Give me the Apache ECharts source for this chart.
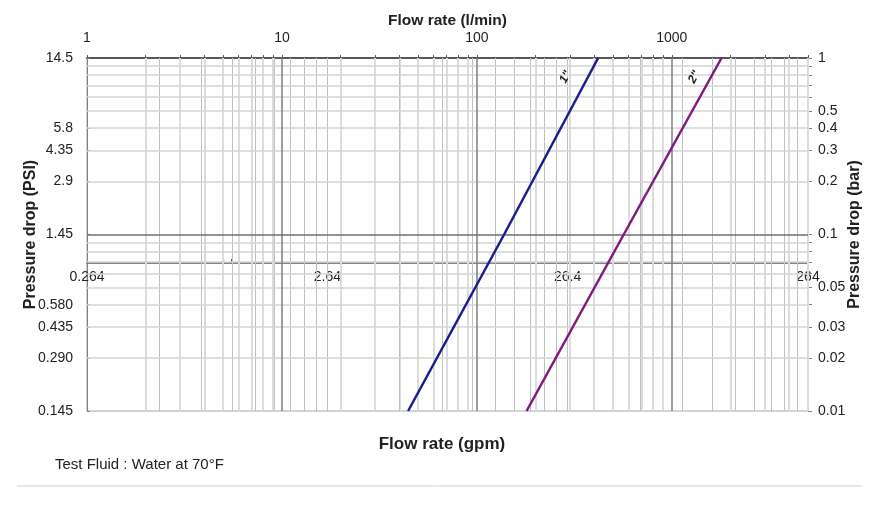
<!DOCTYPE html>
<html><head><meta charset="utf-8">
<script src="https://cdn.jsdelivr.net/npm/echarts@6/dist/echarts.min.js"></script>
<style>html,body{margin:0;padding:0;background:#fff}#c{width:884px;height:512px}</style>
</head><body><div id="c"></div>
<script>
// ---- data ----
const seriesNames = ['1"', '2"'];
const flow1 = [44.4, 138, 419];      // l/min
const bar1  = [0.01, 0.1, 1];        // bar
const flow2 = [180, 567, 1800];      // l/min
const bar2  = [0.01, 0.1, 1];        // bar
const seriesLabelAt = [[285, 0.78], [1305, 0.78]];
const lpmTicks = [1, 10, 100, 1000];
const gpmTicks = [0.264, 2.64, 26.4, 264];
const psiTicks = [0.145, 0.29, 0.435, 0.58, 1.45, 2.9, 4.35, 5.8, 14.5];
const psiLabels = ['0.145', '0.290', '0.435', '0.580', '1.45', '2.9', '4.35', '5.8', '14.5'];
const barTicks = [0.01, 0.02, 0.03, 0.05, 0.1, 0.2, 0.3, 0.4, 0.5, 1];

// ---- grid line values (log-decade minors) ----
function minors(base, decades, maxV, kFrom) {
  const out = [];
  decades.forEach(n => { for (let k = kFrom; k <= 9; k++) { const v = +(base * k * Math.pow(10, n)).toPrecision(6); if (v <= maxV) out.push(v); } });
  return out;
}
const lpmMinor = minors(1, [0, 1, 2, 3], 5000, 2);
const gpmMinor = minors(0.264, [0, 1, 2], 264, 2);
const barMinor = minors(1, [-2, -1], 1, 2);
const FONT = "'Liberation Sans', Arial, sans-serif";
const TXT = '#222';
const fmtNum = v => String(+(+v).toPrecision(6));

function mk(vals, key, color, width) {
  return { symbol: ['none', 'none'], silent: true, animation: false, label: { show: false },
    lineStyle: { color: color, width: width, type: 'solid' }, emphasis: { disabled: true },
    data: vals.map(v => ({ [key]: v })) };
}
function helper(xi, yi, ml, z) {
  return { type: 'line', xAxisIndex: xi, yAxisIndex: yi, data: [], z: z, silent: true, markLine: ml };
}
function nearestLabel(v) {
  let bi = 0, bd = Infinity;
  psiTicks.forEach((t, i) => { const d = Math.abs(Math.log(t) - Math.log(v)); if (d < bd) { bd = d; bi = i; } });
  return psiLabels[bi];
}
const tickLabel = { fontSize: 14, color: TXT, fontFamily: FONT };

const chart = echarts.init(document.getElementById('c'), null, { renderer: 'canvas' });
chart.setOption({
  animation: false,
  backgroundColor: '#fff',
  textStyle: { fontFamily: FONT },
  grid: { left: 87, right: 76, top: 58, bottom: 101, show: true, borderColor: '#a6a6a6', borderWidth: 1 },
  xAxis: [
    { type: 'log', position: 'top', min: 1, max: 5000, logBase: 10,
      name: 'Flow rate (l/min)', nameLocation: 'middle', nameGap: 29, nameMoveOverlap: false,
      nameTextStyle: { fontFamily: FONT, fontWeight: 'bold', fontSize: 15.5, color: TXT },
      axisLine: { show: true, lineStyle: { color: '#595959', width: 2 } },
      axisTick: { show: true, length: 3, customValues: lpmMinor.concat(lpmTicks), lineStyle: { color: '#595959' } },
      axisLabel: Object.assign({ customValues: lpmTicks, margin: 13, formatter: fmtNum }, tickLabel),
      splitLine: { show: false }, minorSplitLine: { show: false } },
    { type: 'log', position: 'bottom', offset: -148, min: 0.264, max: 264, logBase: 10,
      axisLine: { show: true, lineStyle: { color: '#595959', width: 1.5 } },
      axisTick: { show: true, inside: true, length: 4, customValues: gpmMinor, lineStyle: { color: '#595959' } },
      axisLabel: Object.assign({ customValues: gpmTicks, margin: 7, formatter: fmtNum }, tickLabel),
      splitLine: { show: false } }
  ],
  yAxis: [
    { type: 'log', position: 'left', min: 0.145, max: 14.5, logBase: 10,
      name: 'Pressure drop (PSI)', nameLocation: 'middle', nameGap: 48, nameRotate: 90, nameMoveOverlap: false,
      nameTextStyle: { fontFamily: FONT, fontWeight: 'bold', fontSize: 16, color: TXT },
      axisLine: { show: true, lineStyle: { color: '#808080', width: 1 } },
      axisTick: { show: true, inside: true, length: 3, customValues: psiTicks, lineStyle: { color: '#808080' } },
      axisLabel: Object.assign({ customValues: psiTicks, margin: 14, formatter: v => nearestLabel(v) }, tickLabel),
      splitLine: { show: false } },
    { type: 'log', position: 'right', min: 0.01, max: 1, logBase: 10,
      name: 'Pressure drop (bar)', nameLocation: 'middle', nameGap: 39, nameRotate: 90, nameMoveOverlap: false,
      nameTextStyle: { fontFamily: FONT, fontWeight: 'bold', fontSize: 16, color: TXT },
      axisLine: { show: true, lineStyle: { color: '#808080', width: 1 } },
      axisTick: { show: true, length: 4, customValues: barMinor.concat([0.01, 0.1, 1]), lineStyle: { color: '#808080' } },
      axisLabel: Object.assign({ customValues: barTicks, margin: 10, formatter: fmtNum }, tickLabel),
      splitLine: { show: false } }
  ],
  series: [
    helper(0, 1, mk(lpmMinor, 'xAxis', '#dcdcdc', 2), 1),
    helper(1, 1, mk(gpmMinor.concat(gpmTicks.slice(1, 3)), 'xAxis', '#c0c0c0', 1), 1),
    helper(0, 1, mk(barMinor, 'yAxis', '#d4d4d4', 1.5), 1),
    helper(0, 1, mk(lpmTicks.slice(1), 'xAxis', '#7f7f7f', 1.5), 2),
    helper(0, 1, mk([0.1], 'yAxis', '#6f6f6f', 1.5), 2),
    { name: seriesNames[0], type: 'line', xAxisIndex: 0, yAxisIndex: 1, z: 5,
      data: flow1.map((f, i) => [f, bar1[i]]), symbol: 'none',
      lineStyle: { color: '#1c1c8f', width: 2.5 },
      markPoint: { symbol: 'circle', symbolSize: 0, silent: true,
        label: { show: true, formatter: seriesNames[0], rotate: 62, fontStyle: 'italic', fontWeight: 'bold', fontSize: 12, color: '#222', fontFamily: FONT },
        data: [{ coord: seriesLabelAt[0] }] } },
    { name: seriesNames[1], type: 'line', xAxisIndex: 0, yAxisIndex: 1, z: 5,
      data: flow2.map((f, i) => [f, bar2[i]]), symbol: 'none',
      lineStyle: { color: '#7f1a7f', width: 2.5 },
      markPoint: { symbol: 'circle', symbolSize: 0, silent: true,
        label: { show: true, formatter: seriesNames[1], rotate: 62, fontStyle: 'italic', fontWeight: 'bold', fontSize: 12, color: '#222', fontFamily: FONT },
        data: [{ coord: seriesLabelAt[1] }] } }
  ],
  graphic: [
    { type: 'text', left: 'center', top: 436, style: { text: 'Flow rate (gpm)', font: "bold 17px 'Liberation Sans', Arial", fill: TXT } },
    { type: 'text', left: 55, top: 457, style: { text: 'Test Fluid : Water at 70°F', font: "15px 'Liberation Sans', Arial", fill: TXT } },
    { type: 'line', shape: { x1: 17, y1: 486, x2: 862, y2: 486 }, style: { stroke: '#d0d0d0', lineWidth: 1 } }
  ]
});
</script></body></html>
